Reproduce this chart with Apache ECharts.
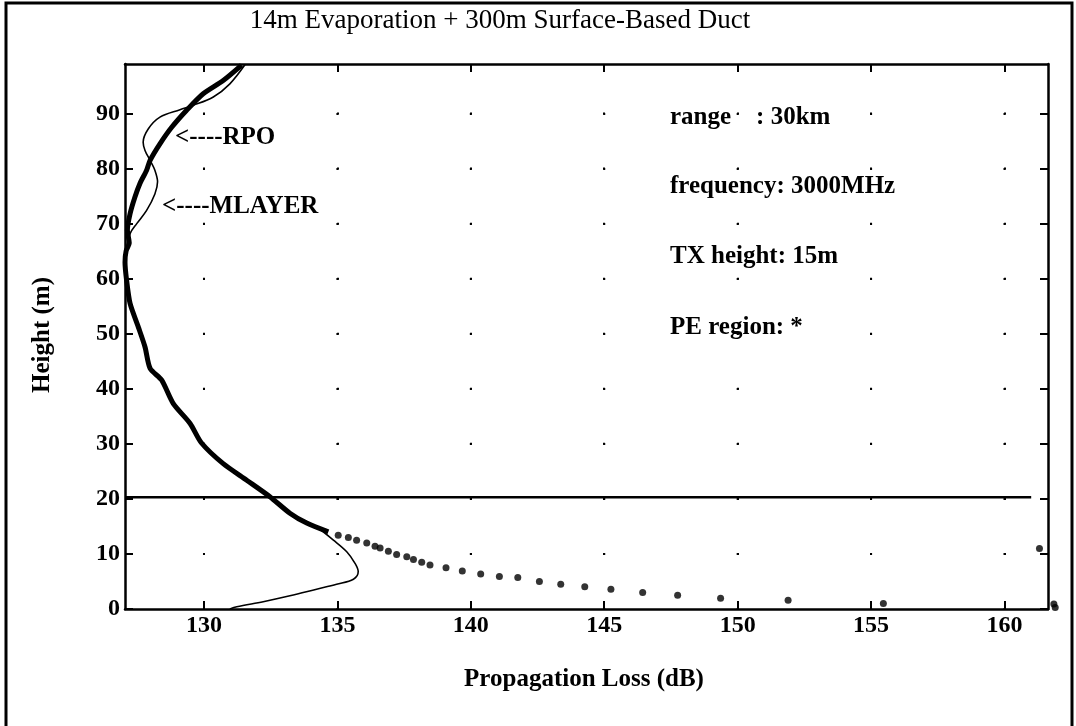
<!DOCTYPE html>
<html><head><meta charset="utf-8">
<script src="https://cdn.jsdelivr.net/npm/echarts@6/dist/echarts.min.js"></script>
<style>html,body{margin:0;padding:0;background:#fff}#c{width:1076px;height:726px}</style>
</head><body><div id="c"></div>
<script>
// ---- data ----
const xTicks = [130, 135, 140, 145, 150, 155, 160];
const yTicks = [0, 10, 20, 30, 40, 50, 60, 70, 80, 90];
const xRange = [127.04, 161.63];
const yRange = [0, 99];

// RPO (thick line), top to bottom
const rpoX = [131.41, 130.72, 129.97, 129.35, 128.79, 128.35, 127.98, 127.85, 127.60, 127.41, 127.23, 127.13, 127.20, 127.08, 127.04, 127.10, 127.23, 127.54, 127.79, 127.98, 128.41, 128.85, 129.48, 129.90, 130.72, 131.60, 132.47, 133.22, 133.85, 134.66];
const rpoY = [98.8, 96.0, 93.6, 90.6, 87.5, 84.5, 81.5, 79.7, 77.3, 74.8, 71.8, 68.8, 66.5, 65.0, 63.0, 59.7, 55.5, 51.2, 47.6, 43.7, 41.6, 37.3, 33.7, 30.2, 26.4, 23.4, 20.4, 17.4, 15.6, 14.0];

// MLAYER (thin line), top to bottom
const mlX = [131.54, 130.97, 130.35, 129.60, 129.10, 128.35, 127.91, 127.72, 127.79, 127.98, 128.16, 128.26, 128.16, 127.85, 127.48, 127.23, 127.12, 127.05, 127.10, 127.23, 127.54, 127.79, 127.98, 128.41, 128.85, 129.48, 129.90, 130.72, 131.60, 132.45, 133.47, 134.22, 134.85, 135.35, 135.66, 135.78, 135.60, 134.97, 134.22, 133.22, 132.22, 131.23, 130.97];
const mlY = [98.9, 95.4, 93.0, 91.5, 90.7, 89.35, 87.2, 84.8, 83.3, 81.5, 79.7, 77.6, 75.4, 72.4, 70.0, 68.2, 66.0, 63.0, 59.7, 55.5, 51.2, 47.6, 43.7, 41.6, 37.3, 33.7, 30.2, 26.4, 23.4, 20.3, 16.75, 14.9, 12.5, 10.4, 8.3, 6.8, 5.4, 4.5, 3.6, 2.4, 1.33, 0.4, 0.0];

// PE region points
const peX = [135.03, 135.41, 135.72, 136.10, 136.41, 136.60, 136.91, 137.22, 137.60, 137.85, 138.16, 138.47, 139.07, 139.68, 140.37, 141.07, 141.76, 142.57, 143.37, 144.27, 145.25, 146.44, 147.75, 149.36, 151.89, 155.46, 161.31, 161.85, 161.90];
const peY = [13.4, 13.0, 12.5, 12.0, 11.4, 11.1, 10.5, 9.9, 9.5, 9.0, 8.5, 8.0, 7.5, 6.9, 6.35, 5.9, 5.7, 5.0, 4.5, 4.05, 3.6, 3.0, 2.5, 1.95, 1.6, 1.0, 11.0, 0.9, 0.25];

// horizontal boundary line
const hLineX = [127.04, 161.0];
const hLineY = [20.3, 20.3];

const titleText = '14m Evaporation + 300m Surface-Based Duct';
const xName = 'Propagation Loss (dB)';
const yName = 'Height (m)';
const infoLines = ['range    : 30km', 'frequency: 3000MHz', 'TX height: 15m', 'PE region: *'];
const arrowLabels = ['<----RPO', '<----MLAYER'];

// ---- layout ----
const W = 1076, H = 726;
const G = {left: 125, top: 64, right: 28, bottom: 117};
const gw = W - G.left - G.right, gh = H - G.top - G.bottom;
const ux = gw / (xRange[1] - xRange[0]);
const uy = gh / (yRange[1] - yRange[0]);
const perX = 5 * ux, perY = 10 * uy;
const sX = (xTicks[0] - xRange[0]) * ux;
const sY = (yRange[1] - yTicks[yTicks.length - 1]) * uy;
const mod = (a, b) => ((a % b) + b) % b;

const FF = '"Liberation Serif","Times New Roman",serif';
const zip = (a, b) => a.map((v, i) => [v, b[i]]);

const chart = echarts.init(document.getElementById('c'), null, {renderer: 'canvas'});

const axisLine = {show: true, onZero: false, lineStyle: {color: '#000', width: 2.5}};
function xAx(pos, main) {
  return {
    type: 'value', position: pos, min: xRange[0], max: xRange[1],
    axisLine: axisLine,
    axisTick: {show: true, inside: true, length: 8, customValues: xTicks, lineStyle: {color: '#000', width: 2}},
    axisLabel: main ? {show: true, customValues: xTicks, margin: 5, color: '#000', fontFamily: FF, fontSize: 24, fontWeight: 'bold'} : {show: false},
    splitLine: main ? {show: true, lineStyle: {color: '#000', width: 2, type: [2, perY - 2], dashOffset: mod(-(sY - 1), perY)}} : {show: false}
  };
}
function yAx(pos, main) {
  return {
    type: 'value', position: pos, min: yRange[0], max: yRange[1],
    axisLine: axisLine,
    axisTick: {show: true, inside: true, length: 8, customValues: yTicks, lineStyle: {color: '#000', width: 2}},
    axisLabel: main ? {show: true, customValues: yTicks, margin: 5, color: '#000', fontFamily: FF, fontSize: 24, fontWeight: 'bold'} : {show: false},
    splitLine: main ? {show: true, lineStyle: {color: '#000', width: 2, type: [2, perX - 2], dashOffset: mod(-(sX - 1), perX)}} : {show: false}
  };
}

const txt = (text, x, y, opt) => Object.assign({
  type: 'text', x: x, y: y,
  style: Object.assign({text: text, fill: '#000', font: 'bold 25px ' + FF, textAlign: 'left', textVerticalAlign: 'middle'}, opt || {})
});

const infoY = [118, 187, 257, 328];
const graphics = [
  {type: 'rect', shape: {x: 6, y: 3, width: 1066, height: 780}, style: {fill: 'none', stroke: '#000', lineWidth: 3}, silent: true},
  txt(titleText, 500, 21, {font: '27px ' + FF, textAlign: 'center'}),
  txt(xName, 584, 680, {textAlign: 'center', font: 'bold 25px ' + FF}),
  Object.assign(txt(yName, 0, 0, {textAlign: 'center', font: 'bold 25px ' + FF}), {x: 43, y: 335, rotation: Math.PI / 2}),
  txt(arrowLabels[0], 175, 138),
  txt(arrowLabels[1], 162, 207)
].concat(infoLines.map((t, i) => txt(t, 670, infoY[i])));

chart.setOption({
  animation: false,
  backgroundColor: '#fff',
  grid: {left: G.left, top: G.top, right: G.right, bottom: G.bottom, containLabel: false},
  xAxis: [xAx('bottom', true), xAx('top', false)],
  yAxis: [yAx('left', true), yAx('right', false)],
  series: [
    {name: 'MLAYER', type: 'line', data: zip(mlX, mlY), showSymbol: false, symbol: 'none', smooth: 0.35,
     lineStyle: {color: '#000', width: 1.6}, z: 3},
    {name: 'RPO', type: 'line', data: zip(rpoX, rpoY), showSymbol: false, symbol: 'none', smooth: 0.25,
     lineStyle: {color: '#000', width: 5}, z: 4},
    {name: 'PE', type: 'scatter', data: zip(peX, peY), symbol: 'circle', symbolSize: 7, clip: false,
     itemStyle: {color: '#000'}, z: 5},
    {name: 'boundary', type: 'line', data: zip(hLineX, hLineY), showSymbol: false, symbol: 'none',
     lineStyle: {color: '#000', width: 2.5}, z: 3}
  ],
  graphic: graphics
});
</script>
</body></html>
